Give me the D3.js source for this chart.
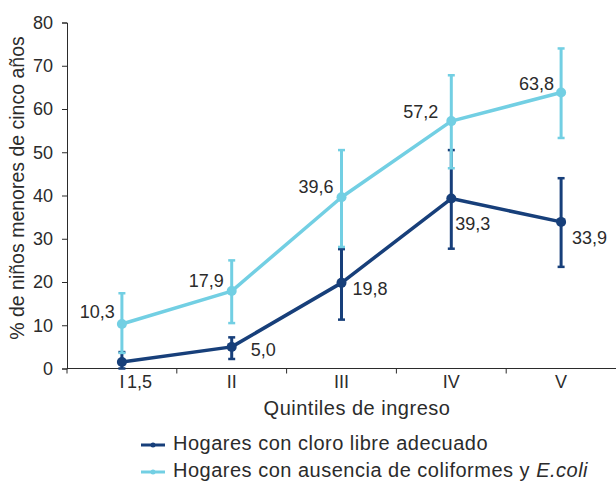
<!DOCTYPE html>
<html>
<head>
<meta charset="utf-8">
<script src="https://cdn.jsdelivr.net/npm/d3@7"></script>
<style>
  body { margin: 0; background: #fff; }
  svg text { font-family: "Liberation Sans", Arial, sans-serif; fill: #2b2b2b; }
  .axis path, .axis line { stroke: #2b2b2b; stroke-width: 1; }
</style>
</head>
<body>
<svg id="chart" width="616" height="483"></svg>
<script>
// data
var quintiles = ["I", "II", "III", "IV", "V"];
var cloroVals = [1.5, 5.0, 19.8, 39.3, 33.9];
var cloroLow  = [0.0, 2.2, 11.3, 27.7, 23.5];
var cloroHigh = [3.8, 7.2, 27.6, 50.5, 44.0];
var coliVals  = [10.3, 17.9, 39.6, 57.2, 63.8];
var coliLow   = [3.6, 10.5, 28.1, 46.3, 53.3];
var coliHigh  = [17.4, 25.0, 50.5, 67.8, 74.0];
var yTicks = [0, 10, 20, 30, 40, 50, 60, 70, 80];
var seriesNames = ["Hogares con cloro libre adecuado", "Hogares con ausencia de coliformes y "];

var darkBlue = "#173f7a",
    lightBlue = "#72cfe3";

var svg = d3.select("#chart");

var x = d3.scaleBand().domain(quintiles).range([67, 616]).padding(0);
var y = d3.scaleLinear().domain([0, 80]).range([368.5, 22.5]);
function cx(d) { return x(d) + x.bandwidth() / 2; }

// y axis
var yAxis = svg.append("g")
    .attr("class", "axis")
    .attr("transform", "translate(67,0)")
    .call(d3.axisLeft(y).tickValues(yTicks).tickSize(5).tickPadding(9).tickFormat(d3.format("d")));
yAxis.selectAll("text").style("font-size", "18px");

// x axis, labels centred, ticks on band edges
var xAxis = svg.append("g")
    .attr("class", "axis")
    .attr("transform", "translate(0," + y(0) + ")")
    .call(d3.axisBottom(x).tickSize(0).tickPadding(7));
xAxis.select(".domain").attr("d", "M67,0H616");
xAxis.selectAll("text").style("font-size", "18px");
xAxis.selectAll(".edge")
    .data(quintiles)
    .enter().append("line")
      .attr("class", "edge")
      .attr("x1", function(d) { return x(d); })
      .attr("x2", function(d) { return x(d); })
      .attr("y1", 0).attr("y2", 5);

// titles
svg.append("text")
    .attr("transform", "translate(24,188) rotate(-90)")
    .attr("text-anchor", "middle")
    .style("font-size", "19.5px")
    .text("% de niños menores de cinco años");

svg.append("text")
    .attr("x", 357).attr("y", 415)
    .attr("text-anchor", "middle")
    .style("font-size", "20px")
    .style("letter-spacing", "0.5px")
    .text("Quintiles de ingreso");

// series
function drawSeries(vals, lows, highs, color) {
  var g = svg.append("g");
  var line = d3.line()
      .x(function(d, i) { return cx(quintiles[i]); })
      .y(function(d) { return y(d); });

  g.append("path")
      .datum(vals)
      .attr("d", line)
      .attr("fill", "none")
      .attr("stroke", color)
      .attr("stroke-width", 3.5)
      .attr("stroke-linejoin", "round");

  var bars = g.selectAll(".err")
      .data(quintiles)
      .enter().append("g")
        .attr("class", "err");
  bars.append("line")
      .attr("x1", cx).attr("x2", cx)
      .attr("y1", function(d, i) { return y(lows[i]); })
      .attr("y2", function(d, i) { return y(highs[i]); })
      .attr("stroke", color).attr("stroke-width", 3);
  bars.append("line")
      .attr("x1", function(d) { return cx(d) - 3.5; })
      .attr("x2", function(d) { return cx(d) + 3.5; })
      .attr("y1", function(d, i) { return y(highs[i]); })
      .attr("y2", function(d, i) { return y(highs[i]); })
      .attr("stroke", color).attr("stroke-width", 2.5);
  bars.append("line")
      .attr("x1", function(d) { return cx(d) - 3.5; })
      .attr("x2", function(d) { return cx(d) + 3.5; })
      .attr("y1", function(d, i) { return y(lows[i]); })
      .attr("y2", function(d, i) { return y(lows[i]); })
      .attr("stroke", color).attr("stroke-width", 2.5);

  g.selectAll(".pt")
      .data(vals)
      .enter().append("circle")
        .attr("class", "pt")
        .attr("cx", function(d, i) { return cx(quintiles[i]); })
        .attr("cy", function(d) { return y(d); })
        .attr("r", 5)
        .attr("fill", color);
}

drawSeries(cloroVals, cloroLow, cloroHigh, darkBlue);
drawSeries(coliVals, coliLow, coliHigh, lightBlue);

// value labels (offsets from the point)
var fmt = function(v) { return d3.format(".1f")(v).replace(".", ","); };
var cloroOff = [[5, 26], [19, 9], [11, 12], [4, 31], [11, 22]];
var coliOff  = [[-7, -6], [-8, -4], [-8, -4], [-13, -3], [-7, -3]];

svg.selectAll(".lblCloro")
    .data(cloroVals)
    .enter().append("text")
      .attr("class", "lblCloro")
      .attr("x", function(d, i) { return cx(quintiles[i]) + cloroOff[i][0]; })
      .attr("y", function(d, i) { return y(d) + cloroOff[i][1]; })
      .style("font-size", "18px")
      .text(fmt);

svg.selectAll(".lblColi")
    .data(coliVals)
    .enter().append("text")
      .attr("class", "lblColi")
      .attr("text-anchor", "end")
      .attr("x", function(d, i) { return cx(quintiles[i]) + coliOff[i][0]; })
      .attr("y", function(d, i) { return y(d) + coliOff[i][1]; })
      .style("font-size", "18px")
      .text(fmt);

// legend
var legend = svg.append("g");
[darkBlue, lightBlue].forEach(function(color, i) {
  var ly = 445 + i * 27;
  legend.append("line")
      .attr("x1", 141).attr("x2", 165)
      .attr("y1", ly).attr("y2", ly)
      .attr("stroke", color).attr("stroke-width", 3);
  legend.append("circle")
      .attr("cx", 153).attr("cy", ly).attr("r", 2.5)
      .attr("fill", color);
  var t = legend.append("text")
      .attr("x", 173).attr("y", ly + 5)
      .style("font-size", "20px")
      .style("letter-spacing", "0.5px")
      .text(seriesNames[i]);
  if (i === 1) {
    t.append("tspan").style("font-style", "italic").text("E.coli");
  }
});
</script>
</body>
</html>
